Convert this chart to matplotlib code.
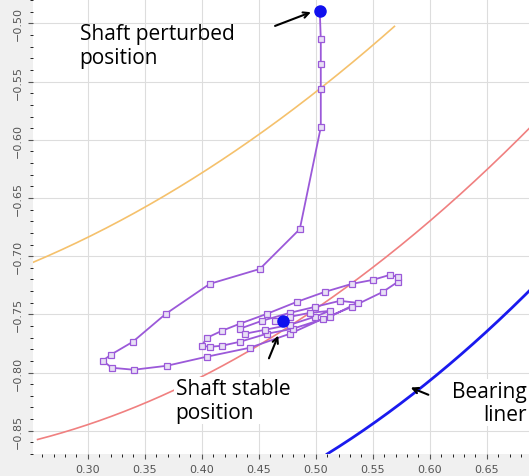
import matplotlib
matplotlib.use("Agg")
import matplotlib.pyplot as plt
import numpy as np
from matplotlib.ticker import MultipleLocator

traj_x = [0.5035,0.5044,0.5044,0.5044,0.5044,0.4860,0.4509,0.4070,0.3684,0.3395,0.3202,0.3132,0.3211,0.3404,0.3693,0.4044,0.4421,0.4772,0.5061,0.5316,0.5588,0.5719,0.5719,0.5649,0.5500,0.5316,0.5079,0.4833,0.4570,0.4333,0.4175,0.4044,0.4000,0.4070,0.4175,0.4333,0.4570,0.4798,0.5123,0.5368,0.5211,0.4991,0.4772,0.4526,0.4333,0.4377,0.4553,0.4772,0.4991,0.5123,0.4947,0.4772,0.4640,0.4711]
traj_y = [-0.4889,-0.5137,-0.5352,-0.5566,-0.5892,-0.6767,-0.7110,-0.7238,-0.7496,-0.7736,-0.7847,-0.7899,-0.7959,-0.7976,-0.7942,-0.7864,-0.7787,-0.7667,-0.7539,-0.7436,-0.7307,-0.7221,-0.7178,-0.7161,-0.7204,-0.7238,-0.7307,-0.7393,-0.7496,-0.7581,-0.7642,-0.7702,-0.7770,-0.7779,-0.7770,-0.7736,-0.7667,-0.7624,-0.7521,-0.7401,-0.7384,-0.7436,-0.7487,-0.7556,-0.7624,-0.7667,-0.7633,-0.7590,-0.7521,-0.7470,-0.7487,-0.7521,-0.7556,-0.7564]
start_pt = (0.5035, -0.4889)
stable_pt = (0.471, -0.756)

orange_x = [0.252,0.310,0.398,0.486,0.569]
orange_y = [-0.705,-0.681,-0.625,-0.574,-0.501]
red_x = [0.256,0.354,0.486,0.574,0.687]
red_y = [-0.859,-0.822,-0.754,-0.694,-0.589]
blue_x = [0.510,0.591,0.687]
blue_y = [-0.870,-0.814,-0.730]

def smooth(xs, ys, deg=2):
    c = np.polyfit(xs, ys, deg)
    xx = np.linspace(min(xs), max(xs), 200)
    return xx, np.polyval(c, xx)

fig = plt.figure(figsize=(5.29,4.77), dpi=100, facecolor="#f0f0f0")
ax = fig.add_axes([33/529, 22/477, 496/529, 455/477])
ax.set_xlim(0.252, 0.687)
ax.set_ylim(-0.870, -0.479)
ax.grid(True, color="#dddddd", lw=0.8)
ax.xaxis.set_major_locator(MultipleLocator(0.05))
ax.yaxis.set_major_locator(MultipleLocator(0.05))
ax.xaxis.set_minor_locator(MultipleLocator(0.01))
ax.yaxis.set_minor_locator(MultipleLocator(0.01))
ax.tick_params(labelsize=8, colors="#555555")
ax.tick_params(axis="y", labelrotation=90)
for lab in ax.get_yticklabels():
    lab.set_va("center")
for s in ax.spines.values():
    s.set_visible(False)

ax.plot(*smooth(orange_x, orange_y), color="#f5c16c", lw=1.2)
ax.plot(*smooth(red_x, red_y), color="#f08080", lw=1.2)
ax.plot(*smooth(blue_x, blue_y), color="#1a1aee", lw=2)
ax.plot(traj_x, traj_y, color="#9b59d9", lw=1.3, marker="s", ms=4.5,
        mfc="#e8e0f5", mec="#9b59d9", mew=0.9)
ax.plot(*start_pt, "o", color="#1010ee", ms=8)
ax.plot(*stable_pt, "o", color="#1010ee", ms=8)

fs = 15
ap = dict(arrowstyle="->", color="black", lw=1.5)
ax.annotate("", xy=(0.498, -0.4895), xytext=(0.462, -0.503), arrowprops=ap)
ax.text(0.293, -0.519, "Shaft perturbed\nposition", fontsize=fs, family="Open Sans", va="center", linespacing=1.15)
ax.annotate("", xy=(0.468, -0.766), xytext=(0.458, -0.790), arrowprops=ap)
ax.text(0.377, -0.824, "Shaft stable\nposition", fontsize=fs, family="Open Sans", va="center", linespacing=1.15,
        bbox=dict(fc="white", ec="none", pad=1))
ax.annotate("", xy=(0.581, -0.812), xytext=(0.601, -0.820), arrowprops=ap)
ax.text(0.685, -0.826, "Bearing\nliner", fontsize=fs, family="Open Sans", va="center", ha="right", linespacing=1.15,
        bbox=dict(fc="white", ec="none", pad=1))

fig.savefig("out.png", dpi=100, facecolor=fig.get_facecolor())
